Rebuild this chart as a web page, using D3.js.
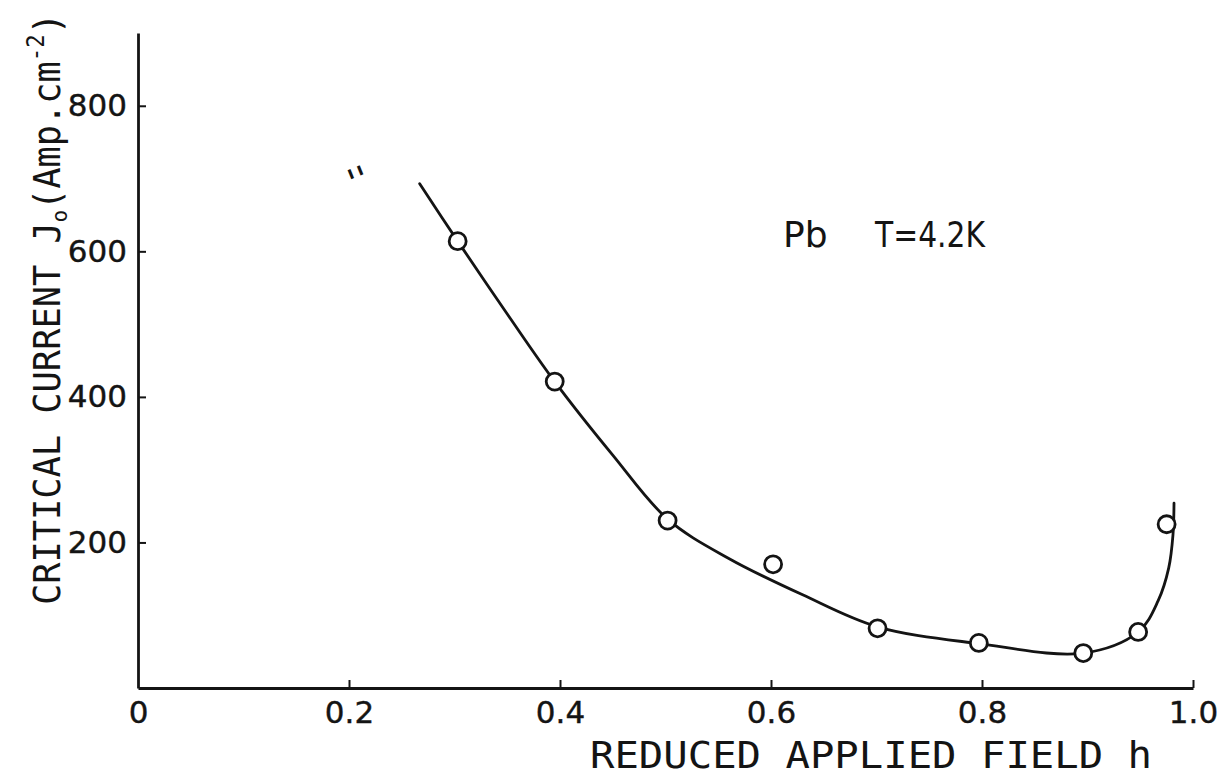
<!DOCTYPE html>
<html>
<head>
<meta charset="utf-8">
<script src="https://cdn.jsdelivr.net/npm/d3@7"></script>
<style>
  body { margin: 0; background: #fff; }
  svg { display: block; }
</style>
</head>
<body>
<div id="chart"></div>
<script>
// measured points (open circles)
const fieldValues = [0.303, 0.395, 0.502, 0.602, 0.701, 0.797, 0.896, 0.948, 0.975];
const currentValues = [614, 421, 230, 170, 82, 62, 48, 77, 225];

// hand drawn fitted curve
const curveField = [0.267, 0.303, 0.35, 0.395, 0.45, 0.502, 0.56, 0.63, 0.701, 0.797, 0.896, 0.948, 0.967, 0.977, 0.981, 0.982];
const curveCurrent = [693, 614, 514, 421, 320, 232, 178, 128, 84, 61, 48, 77, 120, 165, 210, 254];

const xTicks = [0, 0.2, 0.4, 0.6, 0.8, 1.0];
const xTickLabels = ["0", "0.2", "0.4", "0.6", "0.8", "1.0"];
const yTicks = [200, 400, 600, 800];
const yTickLabels = ["200", "400", "600", "800"];

const width = 1221;
const height = 777;
const ink = "#141414";

const x = d3.scaleLinear().domain([0, 1]).range([138, 1193]);
const y = d3.scaleLinear().domain([0, 900]).range([688, 33]);

const svg = d3
  .select("#chart")
  .append("svg")
  .attr("width", width)
  .attr("height", height)
  .style("background", "#fff");

// axes
const xAxis = d3
  .axisBottom(x)
  .tickValues(xTicks)
  .tickFormat((d, i) => xTickLabels[i])
  .tickSizeInner(-8)
  .tickSizeOuter(0)
  .tickPadding(13);

const yAxis = d3
  .axisLeft(y)
  .tickValues(yTicks)
  .tickFormat((d, i) => yTickLabels[i])
  .tickSizeInner(-8)
  .tickSizeOuter(0)
  .tickPadding(11);

const gx = svg.append("g").attr("transform", `translate(0,${y(0)})`).call(xAxis);
const gy = svg.append("g").attr("transform", `translate(${x(0)},0)`).call(yAxis);

[gx, gy].forEach((g) => {
  g.select(".domain").attr("stroke", ink).attr("stroke-width", 2.8);
  g.selectAll(".tick line").attr("stroke", ink).attr("stroke-width", 2);
  g.selectAll(".tick text")
    .attr("fill", ink)
    .attr("font-family", "DejaVu Sans")
    .attr("font-size", 31)
    .attr("stroke", ink)
    .attr("stroke-width", 0.4);
});
// no tick mark at the origin
gx.selectAll(".tick line").filter((d) => d === 0).remove();

// fitted curve
const line = d3
  .line()
  .x((d) => x(d[0]))
  .y((d) => y(d[1]))
  .curve(d3.curveCatmullRom.alpha(0.5));

svg
  .append("path")
  .datum(curveField.map((h, i) => [h, curveCurrent[i]]))
  .attr("d", line)
  .attr("fill", "none")
  .attr("stroke", ink)
  .attr("stroke-width", 2.8)
  .attr("stroke-linecap", "round");

// data points
svg
  .selectAll("circle.pt")
  .data(fieldValues.map((h, i) => [h, currentValues[i]]))
  .join("circle")
  .attr("class", "pt")
  .attr("cx", (d) => x(d[0]))
  .attr("cy", (d) => y(d[1]))
  .attr("r", 8.5)
  .attr("fill", "#fff")
  .attr("stroke", ink)
  .attr("stroke-width", 2.8);

// axis titles
svg
  .append("text")
  .attr("x", 590)
  .attr("y", 768)
  .attr("font-family", "DejaVu Sans Mono")
  .attr("font-size", 38)
  .attr("fill", ink)
  .attr("textLength", 562)
  .attr("lengthAdjust", "spacingAndGlyphs")
  .text("REDUCED APPLIED FIELD  h");

const yTitle = svg
  .append("text")
  .attr("transform", "translate(60,605) rotate(-90)")
  .attr("font-family", "DejaVu Sans Mono")
  .attr("font-size", 38)
  .attr("fill", ink)
  .attr("textLength", 592)
  .attr("lengthAdjust", "spacingAndGlyphs");
yTitle.append("tspan").text("CRITICAL  CURRENT  J");
yTitle.append("tspan").attr("font-size", 22).attr("dy", 7).text("o");
yTitle.append("tspan").attr("dy", -7).text("(Amp.cm");
yTitle.append("tspan").attr("font-size", 24).attr("dy", -16).text("-2");
yTitle.append("tspan").attr("dy", 16).text(")");

// annotation
svg
  .append("text")
  .attr("x", 783)
  .attr("y", 247)
  .attr("font-family", "DejaVu Sans")
  .attr("font-size", 36)
  .attr("fill", ink)
  .text("Pb");
svg
  .append("text")
  .attr("x", 875)
  .attr("y", 247)
  .attr("font-family", "DejaVu Sans")
  .attr("font-size", 36)
  .attr("fill", ink)
  .attr("textLength", 110)
  .attr("lengthAdjust", "spacingAndGlyphs")
  .text("T=4.2K");

// stray pencil marks near the curve start
svg
  .append("text")
  .attr("x", 347)
  .attr("y", 192)
  .attr("font-family", "DejaVu Sans")
  .attr("font-size", 36)
  .attr("fill", ink)
  .attr("transform", "rotate(-22,360,175)")
  .text("''");
</script>
</body>
</html>
